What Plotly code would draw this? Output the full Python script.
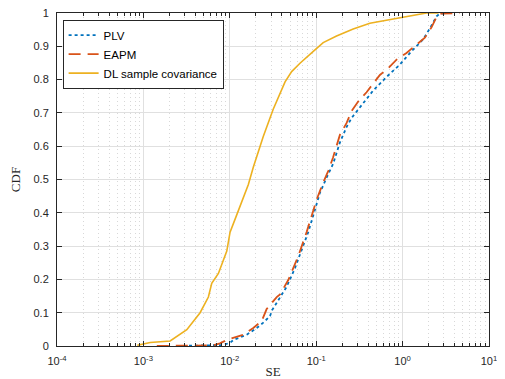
import plotly.graph_objects as go

# PLV curve (SE, CDF)
plv_se = [0.00245, 0.0064, 0.0084, 0.0101, 0.011, 0.0157, 0.0205, 0.0244, 0.0292, 0.0308,
          0.0381, 0.0455, 0.0568, 0.0679, 0.0809, 0.0942, 0.1104, 0.132, 0.157, 0.188,
          0.225, 0.257, 0.321, 0.456, 0.652, 0.929, 1.27, 1.73, 2.06, 2.47, 2.69, 3.52]
plv_cdf = [0.0, 0.002, 0.003, 0.010, 0.018, 0.034, 0.054, 0.070, 0.090, 0.107,
           0.147, 0.178, 0.234, 0.290, 0.342, 0.399, 0.460, 0.506, 0.547, 0.611,
           0.658, 0.685, 0.716, 0.767, 0.808, 0.845, 0.885, 0.921, 0.953, 0.990, 0.998, 1.0]

# EAPM curve
eapm_se = [0.00143, 0.0064, 0.0077, 0.0092, 0.0144, 0.0187, 0.0234, 0.0267, 0.0349, 0.0381,
           0.0475, 0.0543, 0.0620, 0.0775, 0.0885, 0.101, 0.1205, 0.138, 0.157, 0.188,
           0.225, 0.257, 0.306, 0.383, 0.456, 0.546, 0.681, 0.851, 1.11, 1.38, 1.58, 1.81,
           2.16, 2.47, 2.69, 4.58]
eapm_cdf = [0.0, 0.002, 0.008, 0.018, 0.034, 0.054, 0.075, 0.111, 0.147, 0.155,
            0.198, 0.234, 0.270, 0.342, 0.393, 0.439, 0.491, 0.526, 0.567, 0.634,
            0.670, 0.706, 0.734, 0.762, 0.788, 0.814, 0.834, 0.860, 0.880, 0.901, 0.914, 0.926,
            0.957, 0.988, 0.998, 1.0]

# DL sample covariance curve
dl_se = [0.00085, 0.0012, 0.00204, 0.00318, 0.00453, 0.00565, 0.00618, 0.00738, 0.00923, 0.01007,
         0.0120, 0.01435, 0.0164, 0.0187, 0.0244, 0.0318, 0.0436, 0.052, 0.0649, 0.0925,
         0.1205, 0.172, 0.268, 0.418, 0.93, 1.89, 2.6]
dl_cdf = [0.002, 0.0105, 0.015, 0.049, 0.10, 0.147, 0.188, 0.218, 0.285, 0.342,
          0.393, 0.444, 0.485, 0.537, 0.629, 0.711, 0.793, 0.824, 0.849, 0.885,
          0.911, 0.931, 0.952, 0.969, 0.986, 1.0, 1.0]

x_tickvals = [1e-4, 1e-3, 1e-2, 1e-1, 1e0, 1e1]
x_ticktext = ["10<sup>-4</sup>", "10<sup>-3</sup>", "10<sup>-2</sup>", "10<sup>-1</sup>",
              "10<sup>0</sup>", "10<sup>1</sup>"]
y_tickvals = [0, 0.1, 0.2, 0.3, 0.4, 0.5, 0.6, 0.7, 0.8, 0.9, 1]
y_ticktext = ["0", "0.1", "0.2", "0.3", "0.4", "0.5", "0.6", "0.7", "0.8", "0.9", "1"]

fig = go.Figure()
fig.add_trace(go.Scatter(x=plv_se, y=plv_cdf, mode="lines", name="PLV",
                         line=dict(color="#0072BD", width=1.8, dash="3px,3px")))
fig.add_trace(go.Scatter(x=eapm_se, y=eapm_cdf, mode="lines", name="EAPM",
                         line=dict(color="#D95319", width=1.8, dash="12px,7px")))
fig.add_trace(go.Scatter(x=dl_se, y=dl_cdf, mode="lines", name="DL sample covariance",
                         line=dict(color="#EDB120", width=1.6)))

axis_common = dict(
    showline=True, linecolor="#262626", linewidth=1, mirror="ticks",
    ticks="inside", tickcolor="#262626", ticklen=5,
    tickfont=dict(family="Liberation Sans, Arial, sans-serif", size=11, color="#262626"),
    zeroline=False, automargin=False, ticklabeloverflow="allow",
)

fig.update_xaxes(
    type="log", range=[-4, 1],
    tickmode="array", tickvals=x_tickvals, ticktext=x_ticktext,
    showgrid=True, gridcolor="#e0e0e0", gridwidth=1,
    ticklabelstandoff=5,
    minor=dict(dtick="D1", ticks="inside", ticklen=3, tickcolor="#262626",
               showgrid=True, gridcolor="#d8d8d8", griddash="1px,3px", gridwidth=1),
    title=dict(text="SE", font=dict(family="Liberation Serif, Times New Roman, serif",
                                     size=13, color="#262626"), standoff=9),
    **axis_common,
)
fig.update_yaxes(
    range=[0, 1],
    tickmode="array", tickvals=y_tickvals, ticktext=y_ticktext,
    showgrid=True, gridcolor="#e0e0e0", gridwidth=1,
    ticklabelstandoff=5,
    title=dict(text="CDF", font=dict(family="Liberation Serif, Times New Roman, serif",
                                      size=13, color="#262626"), standoff=12),
    **axis_common,
)

# page body has an 8px margin, so the figure is sized to fit the 505x379 window
fig.update_layout(
    width=497, height=371,
    margin=dict(l=49, r=16, t=5, b=33),
    paper_bgcolor="white", plot_bgcolor="white",
    showlegend=True,
    legend=dict(x=0.013, y=0.98, xanchor="left", yanchor="top",
                bgcolor="white", bordercolor="#262626", borderwidth=1,
                font=dict(family="Liberation Sans, Arial, sans-serif", size=11.5, color="#000000"),
                tracegroupgap=0, itemwidth=30),
)

fig.write_html("out.html")
